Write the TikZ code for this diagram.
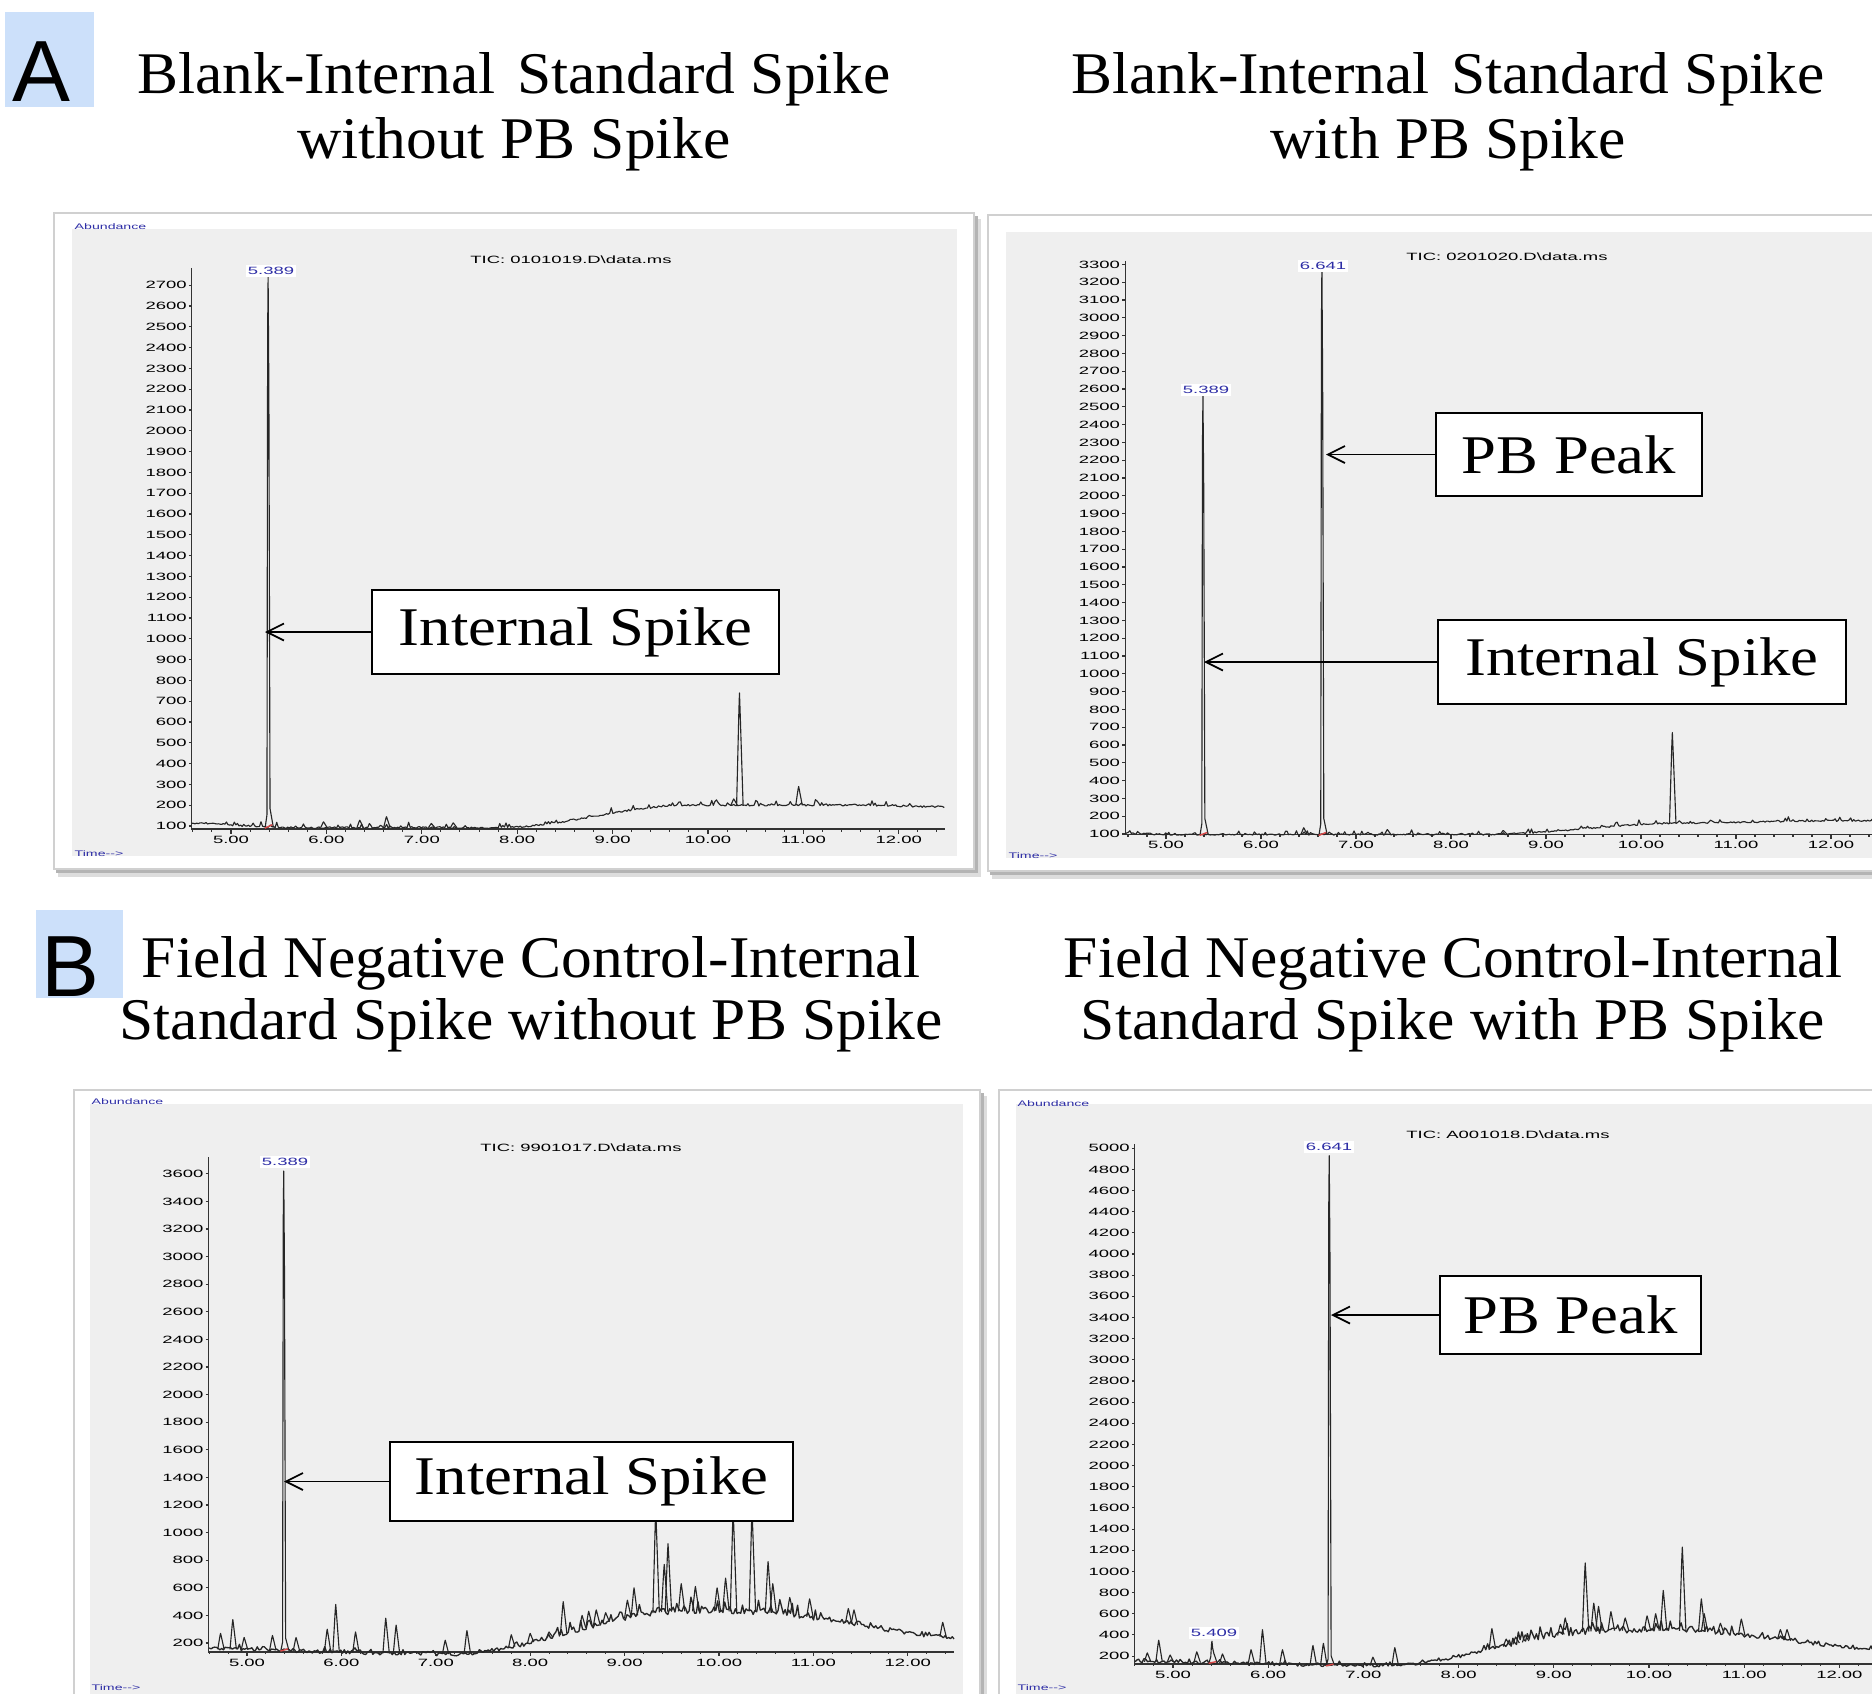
\documentclass[tikz,border=0pt]{standalone}
\usepackage{fontspec}
\setmainfont{Liberation Serif}
\setsansfont{Liberation Sans}
\usepackage{graphicx}
\usetikzlibrary{arrows.meta}

\definecolor{tagblue}{HTML}{CCE0FA}
\definecolor{plotgray}{HTML}{EFEFEF}
\definecolor{framegray}{HTML}{D0D0D0}
\definecolor{shadowgray}{HTML}{8C8C8C}
\definecolor{peakblue}{HTML}{2E2EA6}
\definecolor{intred}{HTML}{D84848}

% horizontally stretched text
\newcommand{\wide}[2]{\scalebox{#1}[1]{#2}}
\newcommand{\tk}[1]{\scalebox{1.75}[1]{#1}}

% white card with a soft shadow: x0, y0, x1, y1
\newcommand{\chromframe}[4]{%
  \fill[shadowgray!30] (#1+4,#2+6) rectangle (#3+7,#4+8);
  \fill[shadowgray!65] (#1+2,#2+3) rectangle (#3+4,#4+4);
  \filldraw[fill=white,draw=framegray,line width=0.4pt] (#1,#2) rectangle (#3,#4);
}

% axes in data units (minutes, counts/100)
% #1 time at y-axis, #2 time at right end, #3 level of time axis, #4 top of y-axis,
% #5 y tick values, #6 px per minute, #7 px per 100 counts, #8 name prefix
\newcommand{\chromaxes}[8]{%
  \draw[axisline] (#1,#4) -- (#1,#3) -- (#2,#3);
  \foreach \yv in {#5}{%
    \draw[axisline] ({#1-3/#6},\yv) -- (#1,\yv);
    \node[ticklab,anchor=east] (#8y\yv) at ({#1-3.5/#6},\yv) {\tk{\yv00}};
  }
  \foreach \tm in {4.6,4.8,...,#2}{%
    \draw[axisline] (\tm,#3) -- (\tm,{#3-2.5/#7});
  }
  \foreach \tm in {5,...,12}{%
    \draw[axisline] (\tm,#3) -- (\tm,{#3-4.5/#7});
    \node[ticklab,anchor=north] (#8x\tm) at (\tm,{#3-5.5/#7}) {\tk{\tm.00}};
  }
}

% small peaks standing on a baseline function: #1 function, #2 list time/height
\newcommand{\spikes}[2]{%
  \foreach \tm/\hv in {#2}{%
    \draw[chrom] ({\tm-0.03},{#1(\tm-0.03)}) -- ({\tm-0.006},{0.85*\hv+0.15*#1(\tm)})
      -- (\tm,\hv) -- ({\tm+0.008},{0.8*\hv+0.2*#1(\tm)}) -- ({\tm+0.038},{#1(\tm+0.038)});
  }
}

% a tall integrated peak with its red integration mark: #1 function, #2 time, #3 height
\newcommand{\mainpeak}[3]{%
  \draw[chrom] ({#2-0.03},{#1(#2-0.03)}) -- ({#2-0.012},{#1(#2)+0.6})
     -- ({#2-0.005},{0.9*#3}) -- (#2,#3) -- ({#2+0.008},{0.8*#3})
     -- ({#2+0.02},{#1(#2)+0.9}) -- ({#2+0.055},{#1(#2+0.055)});
  \draw[intred,line width=0.4pt] ({#2-0.035},{#1(#2)-0.05}) -- ({#2+0.045},{#1(#2)+0.12});
}

\begin{document}
\begin{tikzpicture}[x=0.01cm,y=-0.01cm,
  declare function={
    cl(\s)=min(max(\s,0),1);
    ss(\s)=cl(\s)*cl(\s)*(3-2*cl(\s));
    gr(\s)=ss((\s-7.9)/1.0)*(1-ss((\s-10.6)/0.9));
    bA(\s)=0.92+0.2*(1-ss((\s-4.6)/1.0))+1.08*ss((\s-7.8)/2.0)-0.08*ss((\s-11.5)/1.0);
    bB(\s)=0.97+0.08*(1-ss((\s-4.5)/0.6))+0.65*ss((\s-8.3)/2.2)+0.12*ss((\s-10.5)/1.5);
    bC(\s)=1.55-0.35*ss((\s-4.6)/2.4)+3.1*ss((\s-7.2)/2.4)-1.95*ss((\s-10.2)/2.5);
    bD(\s)=1.45-0.35*ss((\s-4.6)/2.4)+3.3*ss((\s-7.2)/2.4)-1.85*ss((\s-10.2)/2.5);
  },
  chrom/.style={line width=0.32pt,black!85,line join=round},
  axisline/.style={line width=0.3pt,black!80},
  ticklab/.style={font=\sffamily\fontsize{3}{3.5}\selectfont,inner sep=0.3pt},
  peaklab/.style={font=\sffamily\fontsize{3}{3.5}\selectfont,text=peakblue,fill=white,inner sep=0.6pt},
  ticlab/.style={font=\sffamily\fontsize{3}{3.5}\selectfont,inner sep=0.5pt},
  tinyblue/.style={font=\sffamily\fontsize{2.3}{3}\selectfont,text=peakblue,inner sep=0},
  callout/.style={draw,line width=0.75pt,fill=white,inner sep=0,
    font=\fontsize{15.5}{18}\selectfont},
  pointer/.style={line width=0.5pt,-{Straight Barb[length=1.7mm,width=1.7mm]}},
  heading/.style={font=\fontsize{16.8}{20}\selectfont,inner sep=0,anchor=base},
  tag/.style={font=\sffamily\fontsize{24.7}{28}\selectfont,inner sep=0,anchor=base}
]
\path[use as bounding box] (0,0) rectangle (1872,1693);
\clip (0,0) rectangle (1872,1693);

% ---------- cards ----------
\chromframe{54}{213}{974}{869}
\fill[plotgray] (72,229) rectangle (957,856);
\chromframe{988}{215}{1910}{871}
\fill[plotgray] (1006,232) rectangle (1910,858);
\chromframe{74}{1090}{980}{1730}
\fill[plotgray] (90,1104) rectangle (963,1730);
\chromframe{999}{1090}{1910}{1730}
\fill[plotgray] (1016,1104) rectangle (1910,1730);

% ---------- chromatogram 1 ----------
\begin{scope}[shift={(-246,846.8)},xscale=95.4,yscale=-20.8]
  \chromaxes{4.59}{12.48}{0.856}{27.83}{1,...,27}{95.4}{20.8}{a}
  \pgfmathsetseed{11}
  \draw[chrom] plot[domain=4.59:12.48,samples=480] (\x,{bA(\x)+0.04*rand+0.25*abs(rand)^10});
  \spikes{bA}{5.97/1.2,6.35/1.28,6.63/1.45,7.1/1.12,7.33/1.15,10.27/2.3,10.33/7.4,10.95/2.9}
  \mainpeak{bA}{5.389}{27.4}
\end{scope}
\node[peaklab] (pa1) at (271,271) {\tk{5.389}};
\node[ticlab] (tica) at (571,260) {\tk{TIC: 0101019.D\textbackslash data.ms}};
\node[tinyblue,anchor=west] (aba) at (74,227) {\tk{Abundance}};
\node[tinyblue,anchor=west] (tma) at (74,854) {\tk{Time{-}{-}>}};

% ---------- chromatogram 2 ----------
\begin{scope}[shift={(691,851.8)},xscale=95,yscale=-17.8]
  \chromaxes{4.57}{12.75}{0.98}{33.2}{1,...,33}{95}{17.8}{b}
  \pgfmathsetseed{23}
  \draw[chrom] plot[domain=4.57:12.75,samples=500] (\x,{bB(\x)+0.04*rand+0.25*abs(rand)^10});
  \spikes{bB}{6.45/1.35,7.33/1.25,8.55/1.2,10.33/6.7}
  \mainpeak{bB}{5.389}{25.6}
  \mainpeak{bB}{6.641}{32.9}
\end{scope}
\node[peaklab] (pb1) at (1206,390) {\tk{5.389}};
\node[peaklab] (pb2) at (1323,266) {\tk{6.641}};
\node[ticlab] (ticb) at (1507,257) {\tk{TIC: 0201020.D\textbackslash data.ms}};
\node[tinyblue,anchor=west] (tmb) at (1008,856) {\tk{Time{-}{-}>}};

% ---------- chromatogram 3 ----------
\begin{scope}[shift={(-225,1670.6)},xscale=94.4,yscale=-13.8]
  \chromaxes{4.594}{12.49}{1.35}{37.2}{2,4,...,36}{94.4}{13.8}{c}
  \pgfmathsetseed{37}
  \draw[chrom,line width=0.38pt] plot[domain=4.6:12.49,samples=420]
    (\x,{bC(\x)+(0.13+0.08*gr(\x))*rand+(0.3+0.8*gr(\x))*abs(rand)^5});
  \spikes{bC}{4.72/2.7,4.85/3.7,4.97/2.4,5.27/2.55,5.52/2.4,5.85/3.0,5.94/4.8,6.15/2.8,
    6.47/3.8,6.58/3.3,7.1/2.2,7.33/2.9,7.8/2.6,8.0/2.7,8.2/2.8,8.35/5.0,8.55/4.0,8.62/4.3,
    8.7/4.4,8.8/4.2,9.03/5.1,9.1/6.0,9.33/11.6,9.42/7.7,9.46/9.2,9.6/6.3,9.75/6.1,9.98/6.0,
    10.07/6.7,10.15/11.6,10.35/11.6,10.52/7.9,10.57/6.3,10.75/5.3,10.96/5.2,11.37/4.5,
    11.43/4.4,12.37/3.5}
  \mainpeak{bC}{5.389}{36.2}
\end{scope}
\node[peaklab] (pc1) at (285,1162) {\tk{5.389}};
\node[ticlab] (ticc) at (581,1148) {\tk{TIC: 9901017.D\textbackslash data.ms}};
\node[tinyblue,anchor=west] (abc) at (91,1102) {\tk{Abundance}};
\node[tinyblue,anchor=west] (tmc) at (91,1688) {\tk{Time{-}{-}>}};

% ---------- chromatogram 4 ----------
\begin{scope}[shift={(697,1677.2)},xscale=95.2,yscale=-10.58]
  \chromaxes{4.60}{12.75}{1.25}{50.4}{2,4,...,50}{95.2}{10.58}{d}
  \pgfmathsetseed{53}
  \draw[chrom,line width=0.38pt] plot[domain=4.6:12.75,samples=430]
    (\x,{bD(\x)+(0.14+0.09*gr(\x))*rand+(0.3+0.9*gr(\x))*abs(rand)^5});
  \spikes{bD}{4.73/2.3,4.85/3.5,4.97/2.1,5.25/2.4,5.52/2.2,5.82/2.6,5.94/4.5,6.15/2.6,
    6.47/3.0,6.58/3.2,7.1/1.9,7.33/2.8,8.35/4.6,8.5/3.6,8.6/3.8,8.7/4.0,9.07/5.0,9.12/5.6,
    9.33/10.8,9.42/7.0,9.47/6.7,9.6/6.2,9.75/5.6,9.98/5.8,10.07/6.0,10.15/8.2,10.35/12.3,
    10.55/7.4,10.58/6.0,10.75/5.1,10.97/5.5,11.38/4.5,11.45/4.5,12.37/3.5}
  \mainpeak{bD}{5.409}{3.4}
  \mainpeak{bD}{6.641}{49.3}
\end{scope}
\node[peaklab] (pd1) at (1214,1633) {\tk{5.409}};
\node[peaklab] (pd2) at (1329,1147) {\tk{6.641}};
\node[ticlab] (ticd) at (1508,1135) {\tk{TIC: A001018.D\textbackslash data.ms}};
\node[tinyblue,anchor=west] (abd) at (1017,1104) {\tk{Abundance}};
\node[tinyblue,anchor=west] (tmd) at (1017,1688) {\tk{Time{-}{-}>}};

% ---------- call-outs ----------
\node[callout,minimum width=4.07cm,minimum height=0.84cm] (ca) at (575.5,632) {\wide{1.15}{Internal Spike}};
\coordinate (tipa) at (265,632);
\draw[pointer] (ca.west) -- (tipa);

\node[callout,minimum width=2.66cm,minimum height=0.83cm] (cb1) at (1569,454.5) {\wide{1.15}{PB Peak}};
\coordinate (tipb1) at (1326,454.5);
\draw[pointer] (cb1.west) -- (tipb1);
\node[callout,minimum width=4.08cm,minimum height=0.84cm] (cb2) at (1642,662) {\wide{1.15}{Internal Spike}};
\coordinate (tipb2) at (1204,662);
\draw[pointer] (cb2.west) -- (tipb2);

\node[callout,minimum width=4.03cm,minimum height=0.79cm] (cc) at (591.5,1481.5) {\wide{1.15}{Internal Spike}};
\coordinate (tipc) at (284,1481.5);
\draw[pointer] (cc.west) -- (tipc);

\node[callout,minimum width=2.61cm,minimum height=0.78cm] (cd) at (1570.5,1315) {\wide{1.15}{PB Peak}};
\coordinate (tipd) at (1331,1315);
\draw[pointer] (cd.west) -- (tipd);

% ---------- headings ----------
\fill[tagblue] (5,12) rectangle (94,107);
\node[tag] (tagA) at (41.5,101) {A};
\fill[tagblue] (36,910) rectangle (123,998);
\node[tag] (tagB) at (70.5,996) {B};

\node[heading] (ha1) at (514,93) {\wide{1.04}{Blank-Internal\hspace{0.35em}Standard Spike}};
\node[heading] (ha2) at (514,158) {\wide{1.04}{without PB Spike}};
\node[heading] (ha3) at (1448,93) {\wide{1.04}{Blank-Internal\hspace{0.35em}Standard Spike}};
\node[heading] (ha4) at (1448,158) {\wide{1.04}{with PB Spike}};
\node[heading] (hb1) at (531,977) {\wide{1.04}{Field Negative Control-Internal}};
\node[heading] (hb2) at (531,1039) {\wide{1.04}{Standard Spike without PB Spike}};
\node[heading] (hb3) at (1453,977) {\wide{1.04}{Field Negative Control-Internal}};
\node[heading] (hb4) at (1453,1039) {\wide{1.04}{Standard Spike with PB Spike}};
\end{tikzpicture}
\end{document}
